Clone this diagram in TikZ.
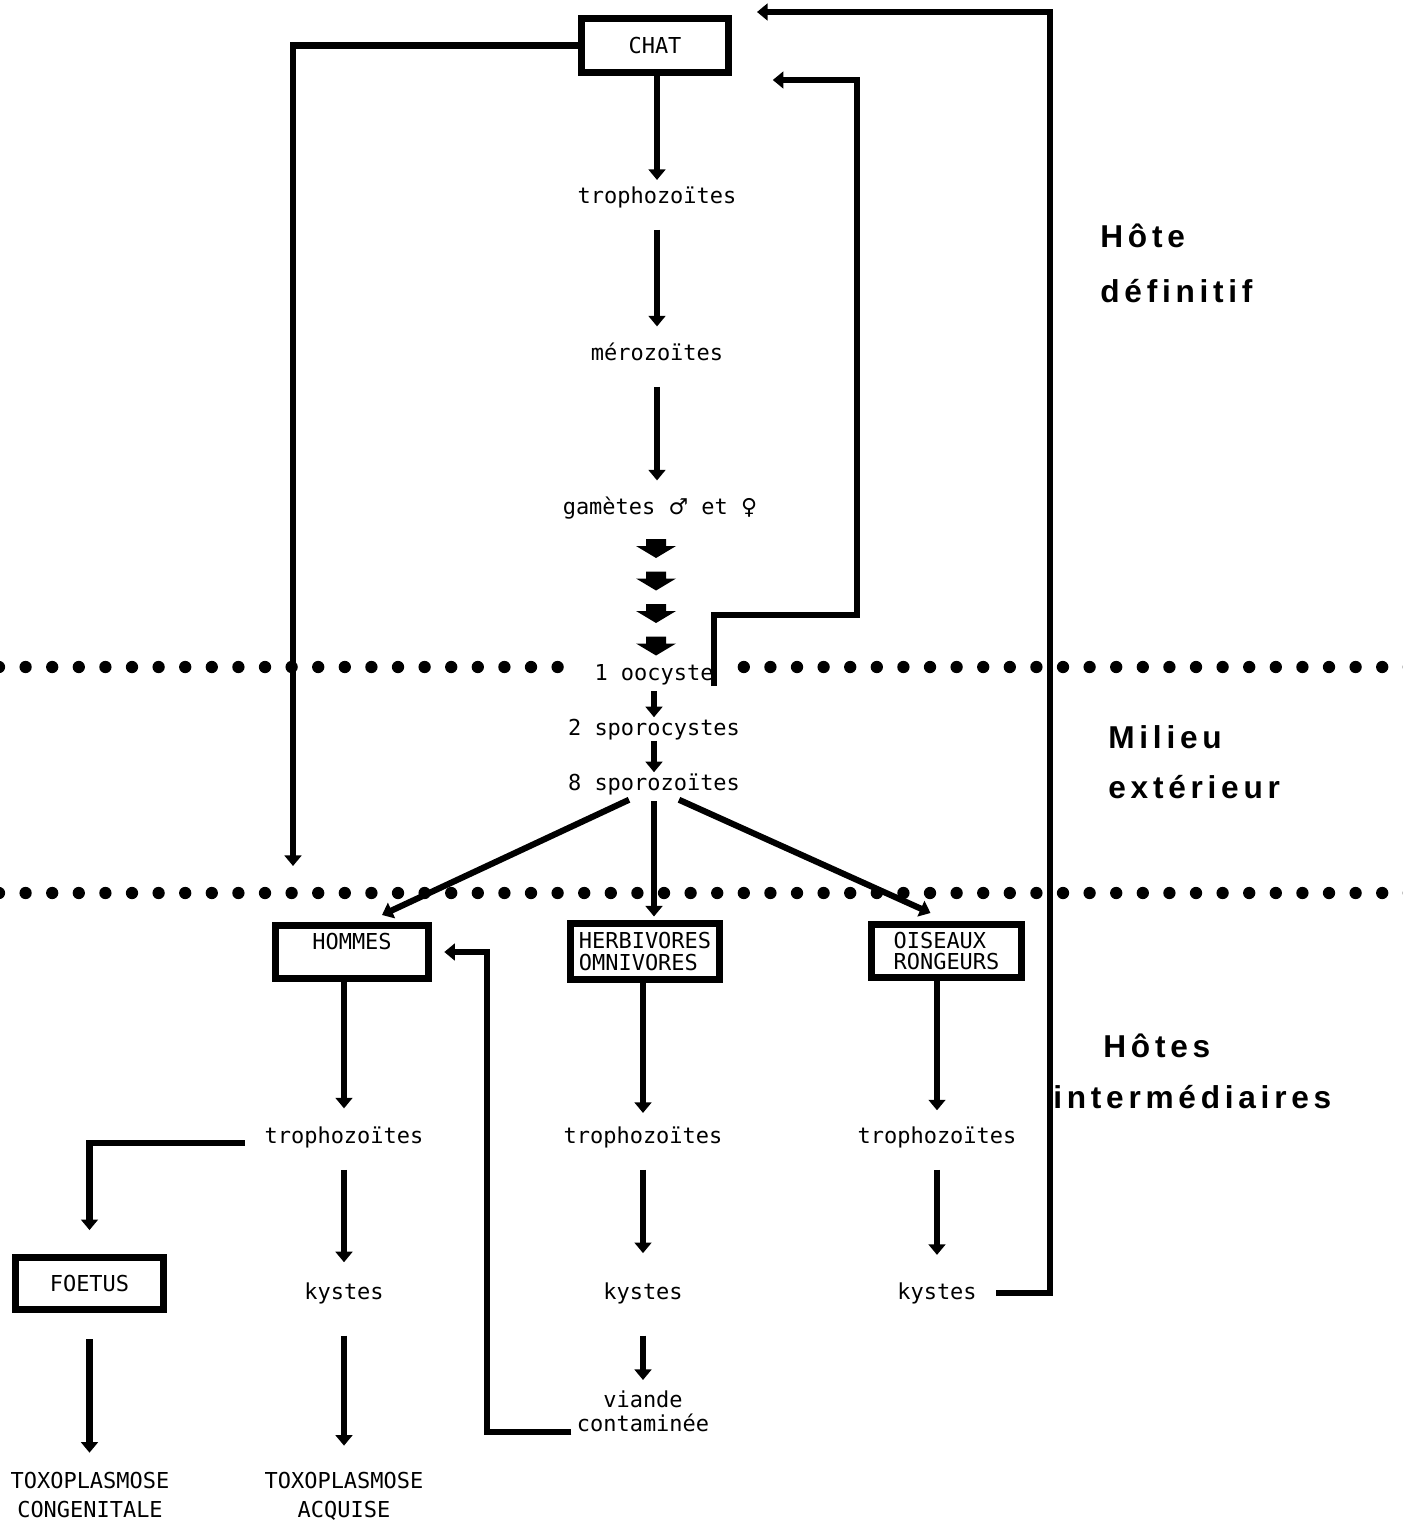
\documentclass[tikz,border=0pt]{standalone}
\usepackage{fontspec}
\usetikzlibrary{arrows.meta,calc}
\newfontfamily\monofont{DejaVu Sans Mono}
\newfontfamily\symfont{DejaVu Sans}
\newfontfamily\labfont[LetterSpace=15]{Liberation Sans}

\begin{document}
\begin{tikzpicture}[x=0.02cm,y=-0.02cm,
  txt/.style={inner sep=0pt,text height=10pt,text depth=3pt,font=\monofont\fontsize{12.5}{15}\selectfont},
  multi/.style={inner sep=0pt,anchor=north,align=center,font=\monofont\fontsize{12.5}{#1}\selectfont},
  box/.style={draw,line width=4pt,inner sep=0pt,font=\monofont\fontsize{12.5}{12}\selectfont},
  lab/.style={inner sep=0pt,anchor=base west,font=\labfont\bfseries\fontsize{18}{20}\selectfont},
  arr/.style={line width=3.5pt,-{Triangle[length=6pt,width=9.5pt]},shorten <=12pt,shorten >=9pt},
  link/.style={line width=3.5pt}]
\useasboundingbox (0,0) rectangle (1402,1520);

% dotted separators
\foreach \k in {0,...,21} \fill (\k*26.6-1,667) circle[radius=3.5pt];
\foreach \k in {28,...,53} \fill (\k*26.6-1,667) circle[radius=3.5pt];
\foreach \k in {0,...,53} \fill (\k*26.6-1,893) circle[radius=3.5pt];

% hote definitif
\node[box,minimum width=2.94cm,minimum height=1.08cm] (chat) at (655,45.5) {CHAT};
\node[txt] (troph) at (657,197) {trophozoïtes};
\node[txt] (meroz) at (657,354) {mérozoïtes};
\node[txt] (gam) at (660,508) {gamètes {\symfont ♂} et {\symfont ♀}};
\foreach \y in {539,571.5,604,636.5}
  \fill (646,\y) -- (666,\y) -- (666,\y+7) -- (676,\y+7) -- (656,\y+19) -- (636,\y+7) -- (646,\y+7) -- cycle;

% milieu exterieur
\node[txt] (ooc) at (654,674) {1 oocyste};
\node[txt] (spc) at (654,729) {2 sporocystes};
\node[txt] (spz) at (654,784) {8 sporozoïtes};

% hotes intermediaires
\node[box,minimum width=3.06cm,minimum height=1.06cm,align=center] (hom) at (352,952) {HOMMES\\\mbox{}};
\node[box,minimum width=2.98cm,minimum height=1.12cm,align=left] (herb) at (645,951.5) {HERBIVORES\\OMNIVORES};
\node[box,minimum width=3.0cm,minimum height=1.06cm,align=left] (ois) at (946.5,951) {OISEAUX\\RONGEURS};
\node[txt] (tropA) at (344,1137) {trophozoïtes};
\node[txt] (tropB) at (643,1137) {trophozoïtes};
\node[txt] (tropC) at (937,1137) {trophozoïtes};
\node[txt] (kysA) at (344,1293) {kystes};
\node[txt] (kysB) at (643,1293) {kystes};
\node[txt] (kysC) at (937,1293) {kystes};
\node[box,minimum width=2.96cm,minimum height=1.04cm] (foe) at (89.5,1283.5) {FOETUS};
\node[multi=14] (viande) at (643,1390) {viande\\contaminée};
\node[multi=16.5] (toxC) at (90,1472) {TOXOPLASMOSE\\CONGENITALE};
\node[multi=16.5] (toxA) at (344,1472) {TOXOPLASMOSE\\ACQUISE};

% labels
\node[lab] (hd1) at (1100,248) {Hôte};
\node[lab] (hd2) at (1100,302) {définitif};
\node[lab] (me1) at (1108,748) {Milieu};
\node[lab] (me2) at (1108,798) {extérieur};
\node[lab] (hi1) at (1103,1057) {Hôtes};
\node[lab] (hi2) at (1053,1108) {intermédiaires};

\coordinate (retA) at (757,80);
\coordinate (retB) at (757,12);
\coordinate (coude) at (857,615);
\coordinate (droite) at (1050,1293);
\coordinate (gauche) at (293,866);
\coordinate (vk) at (487,952);

% cycle
\draw[arr,shorten <=0pt,shorten >=3pt] (chat.south -| troph) -- (troph.north);
\draw[arr] (troph.south) -- (meroz.north);
\draw[arr] (meroz.south) -- (meroz.south |- gam.north);
\draw[arr,shorten <=3pt,shorten >=0pt] (ooc.south) -- (spc.north);
\draw[arr,shorten <=0pt,shorten >=0pt] (spc.south) -- (spz.north);
\draw[arr,shorten <=0pt,shorten >=0pt] ($(spz.south)+(-25,4)$) -- ($(hom.north)+(30,-7)$);
\draw[arr,shorten <=3pt,shorten >=2pt] (spz.south) -- (spz.south |- herb.north);
\draw[arr,shorten <=0pt,shorten >=0pt] ($(spz.south)+(25,4)$) -- ($(ois.north)+(-16,-8)$);
\draw[arr,shorten <=0pt] (ooc.south east) |- (coude) |- (retA);
\draw[arr,shorten <=0pt,shorten >=0pt] (chat.west) -| (gauche);
\draw[arr,shorten <=11pt,shorten >=0pt] (kysC.east) -- (droite) |- (retB);

\draw[arr,shorten <=0pt,shorten >=9.6pt] (hom.south -| tropA) -- (tropA.north);
\draw[arr,shorten <=0pt,shorten >=7pt] (herb.south -| tropB) -- (tropB.north);
\draw[arr,shorten <=0pt,shorten >=8.5pt] (ois.south -| tropC) -- (tropC.north);
\draw[arr,shorten >=10.8pt] (tropA.south) -- (kysA.north);
\draw[arr,shorten >=16pt] (tropB.south) -- (kysB.north);
\draw[arr,shorten >=15pt] (tropC.south) -- (kysC.north);
\draw[arr,shorten <=17.6pt,shorten >=15pt] (kysA.south) -- (toxA.north);
\draw[arr,shorten <=17.6pt,shorten >=5.7pt] (kysB.south) -- (viande.north);
\draw[arr,shorten <=15pt,shorten >=11pt] (foe.south) -- (foe.south |- toxC.north);
\draw[arr,shorten <=11pt,shorten >=13.6pt] (tropA.base west) -| (foe.north);
\draw[arr,shorten <=3pt,shorten >=7pt] (viande.south west) -| (vk) -- (hom.east);
\end{tikzpicture}
\end{document}
